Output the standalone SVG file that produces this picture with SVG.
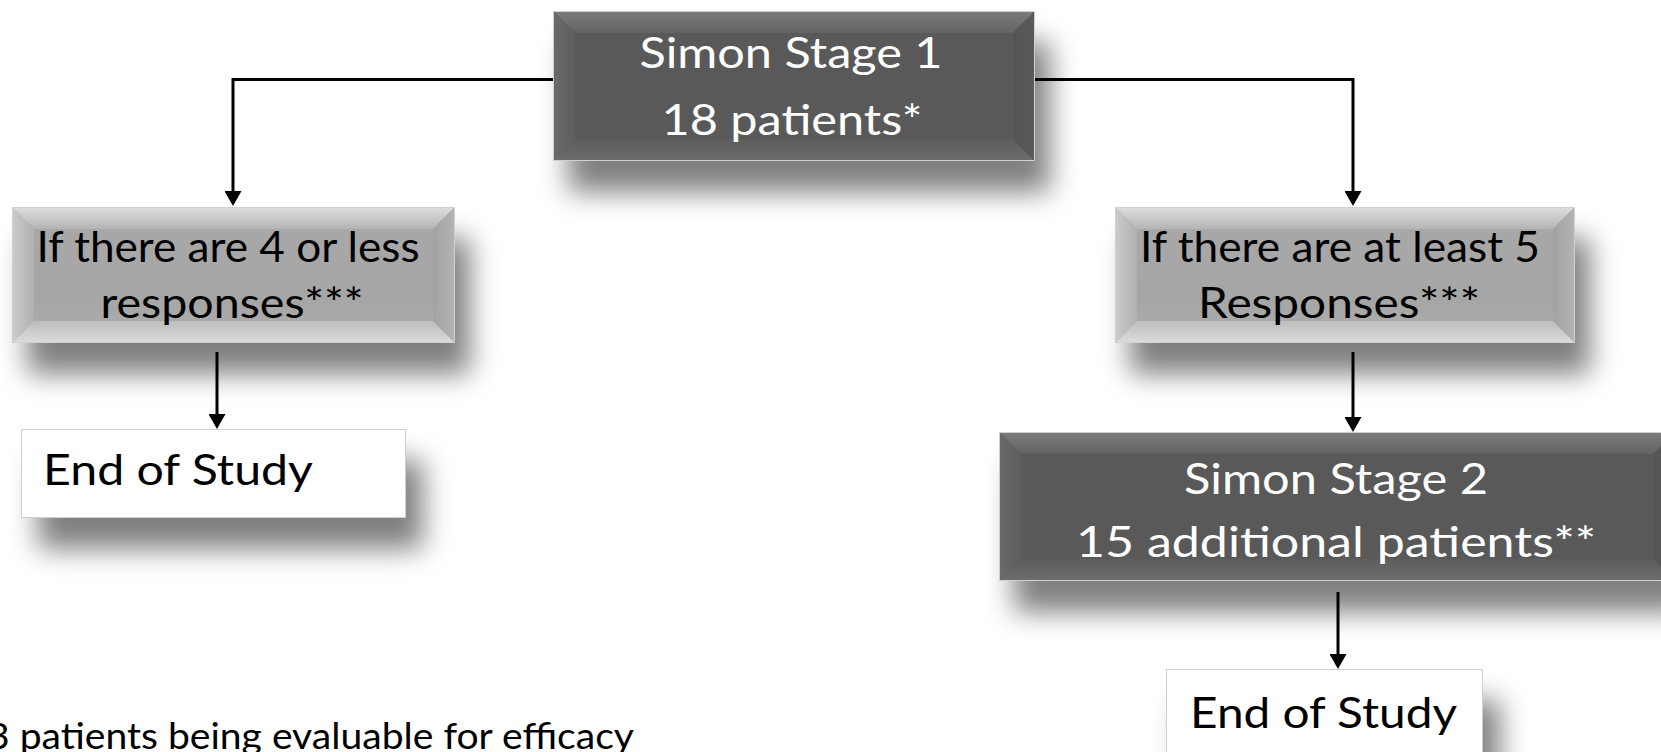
<svg xmlns="http://www.w3.org/2000/svg" width="1661" height="752" viewBox="0 0 1661 752">
<defs>
  <style>
    .t { font-family: Lato, "Open Sans", "Liberation Sans", sans-serif; font-size: 42px; }
    .w { fill: #ffffff; }
    .k { fill: #000000; }
    .conn { fill: none; stroke: #000; stroke-width: 3; }
    .sh { fill: #000; opacity: 0.5; filter: url(#blur); }
    .edge { fill: none; stroke: #d0d0d0; stroke-width: 1; }
  </style>
  <filter id="blur" x="-25%" y="-60%" width="150%" height="220%">
    <feGaussianBlur stdDeviation="14"/>
  </filter>
  <marker id="arr" markerUnits="userSpaceOnUse" viewBox="0 0 15 17" refX="12" refY="8.5" markerWidth="15" markerHeight="17" orient="auto">
    <path d="M0,0 L15,8.5 L0,17 z" fill="#000"/>
  </marker>
  <linearGradient id="dTop" x1="0" y1="0" x2="0" y2="1"><stop offset="0" stop-color="#7c7c7c"/><stop offset="1" stop-color="#636363"/></linearGradient>
  <linearGradient id="dLeft" x1="0" y1="0" x2="1" y2="0"><stop offset="0" stop-color="#6a6a6a"/><stop offset="1" stop-color="#5e5e5e"/></linearGradient>
  <linearGradient id="dBot" x1="0" y1="0" x2="0" y2="1"><stop offset="0" stop-color="#5d5d5d"/><stop offset="1" stop-color="#6d6d6d"/></linearGradient>
  <linearGradient id="dRight" x1="0" y1="0" x2="1" y2="0"><stop offset="0" stop-color="#545454"/><stop offset="1" stop-color="#5a5a5a"/></linearGradient>
  <linearGradient id="lTop" x1="0" y1="0" x2="0" y2="1"><stop offset="0" stop-color="#dedede"/><stop offset="1" stop-color="#b4b4b4"/></linearGradient>
  <linearGradient id="lLeft" x1="0" y1="0" x2="1" y2="0"><stop offset="0" stop-color="#cccccc"/><stop offset="1" stop-color="#b0b0b0"/></linearGradient>
  <linearGradient id="lBot" x1="0" y1="0" x2="0" y2="1"><stop offset="0" stop-color="#bdbdbd"/><stop offset="1" stop-color="#dcdcdc"/></linearGradient>
  <linearGradient id="lRight" x1="0" y1="0" x2="1" y2="0"><stop offset="0" stop-color="#a2a2a2"/><stop offset="1" stop-color="#b4b4b4"/></linearGradient>
  <linearGradient id="lMid" x1="0" y1="0" x2="0" y2="1"><stop offset="0" stop-color="#a8a8a8"/><stop offset="0.7" stop-color="#a6a6a6"/><stop offset="1" stop-color="#b0b0b0"/></linearGradient>
</defs>
<rect x="0" y="0" width="1661" height="752" fill="#ffffff"/>

<g id="stage1">
  <rect class="sh" x="568" y="42" width="482" height="150"/>
  <rect x="553" y="11" width="482" height="150" fill="#595959"/>
  <polygon points="553,11 1035,11 1013,33 575,33" fill="url(#dTop)"/>
  <polygon points="553,11 575,33 575,139 553,161" fill="url(#dLeft)"/>
  <polygon points="553,161 575,139 1013,139 1035,161" fill="url(#dBot)"/>
  <polygon points="1035,11 1013,33 1013,139 1035,161" fill="url(#dRight)"/>
  <rect class="edge" x="553.5" y="11.5" width="481" height="149" stroke="#a0a0a0"/>
  <text class="t w" x="791" y="68" text-anchor="middle" textLength="303" lengthAdjust="spacingAndGlyphs">Simon Stage 1</text>
  <text class="t w" x="792" y="135" text-anchor="middle" textLength="261" lengthAdjust="spacingAndGlyphs">18 patients*</text>
</g>

<g id="cond-left">
  <rect class="sh" x="27" y="238" width="443" height="136"/>
  <rect x="12" y="207" width="443" height="136" fill="url(#lMid)"/>
  <polygon points="12,207 455,207 433,229 34,229" fill="url(#lTop)"/>
  <polygon points="12,207 34,229 34,321 12,343" fill="url(#lLeft)"/>
  <polygon points="12,343 34,321 433,321 455,343" fill="url(#lBot)"/>
  <polygon points="455,207 433,229 433,321 455,343" fill="url(#lRight)"/>
  <rect class="edge" x="12.5" y="207.5" width="442" height="135"/>
  <text class="t k" x="228" y="262" text-anchor="middle" textLength="383" lengthAdjust="spacingAndGlyphs">If there are 4 or less</text>
  <text class="t k" x="232" y="318" text-anchor="middle" textLength="263" lengthAdjust="spacingAndGlyphs">responses***</text>
</g>

<g id="cond-right">
  <rect class="sh" x="1130" y="238" width="460" height="136"/>
  <rect x="1115" y="207" width="460" height="136" fill="url(#lMid)"/>
  <polygon points="1115,207 1575,207 1553,229 1137,229" fill="url(#lTop)"/>
  <polygon points="1115,207 1137,229 1137,321 1115,343" fill="url(#lLeft)"/>
  <polygon points="1115,343 1137,321 1553,321 1575,343" fill="url(#lBot)"/>
  <polygon points="1575,207 1553,229 1553,321 1575,343" fill="url(#lRight)"/>
  <rect class="edge" x="1115.5" y="207.5" width="459" height="135"/>
  <text class="t k" x="1340" y="262" text-anchor="middle" textLength="400" lengthAdjust="spacingAndGlyphs">If there are at least 5</text>
  <text class="t k" x="1339" y="318" text-anchor="middle" textLength="282" lengthAdjust="spacingAndGlyphs">Responses***</text>
</g>

<g id="end-left">
  <rect class="sh" x="38" y="460" width="385" height="89"/>
  <rect x="21" y="429" width="385" height="89" fill="#ffffff"/>
  <rect class="edge" x="21.5" y="429.5" width="384" height="88"/>
  <text class="t k" x="43" y="485" textLength="270" lengthAdjust="spacingAndGlyphs">End of Study</text>
</g>

<g id="stage2">
  <rect class="sh" x="1014" y="463" width="676" height="149"/>
  <rect x="999" y="432" width="676" height="149" fill="#595959"/>
  <polygon points="999,432 1675,432 1653,454 1021,454" fill="url(#dTop)"/>
  <polygon points="999,432 1021,454 1021,559 999,581" fill="url(#dLeft)"/>
  <polygon points="999,581 1021,559 1653,559 1675,581" fill="url(#dBot)"/>
  <polygon points="1675,432 1653,454 1653,559 1675,581" fill="url(#dRight)"/>
  <rect class="edge" x="999.5" y="432.5" width="675" height="148" stroke="#a0a0a0"/>
  <text class="t w" x="1336" y="494" text-anchor="middle" textLength="304" lengthAdjust="spacingAndGlyphs">Simon Stage 2</text>
  <text class="t w" x="1336" y="557" text-anchor="middle" textLength="520" lengthAdjust="spacingAndGlyphs">15 additional patients**</text>
</g>

<g id="end-right">
  <rect class="sh" x="1183" y="700" width="317" height="100"/>
  <rect x="1166" y="669" width="317" height="100" fill="#ffffff"/>
  <rect class="edge" x="1166.5" y="669.5" width="316" height="99"/>
  <text class="t k" x="1190" y="728" textLength="267" lengthAdjust="spacingAndGlyphs">End of Study</text>
</g>

<g id="footnote">
  <text class="t k" x="-13" y="749" style="font-size:36px" textLength="647" lengthAdjust="spacingAndGlyphs">3 patients being evaluable for efficacy</text>
</g>

<g id="connectors">
  <path class="conn" d="M553,79.5 H233 V203" marker-end="url(#arr)"/>
  <path class="conn" d="M1035,79.5 H1353 V203" marker-end="url(#arr)"/>
  <path class="conn" d="M217,352 V426" marker-end="url(#arr)"/>
  <path class="conn" d="M1353,352 V429" marker-end="url(#arr)"/>
  <path class="conn" d="M1338,592 V666" marker-end="url(#arr)"/>
</g>
</svg>
